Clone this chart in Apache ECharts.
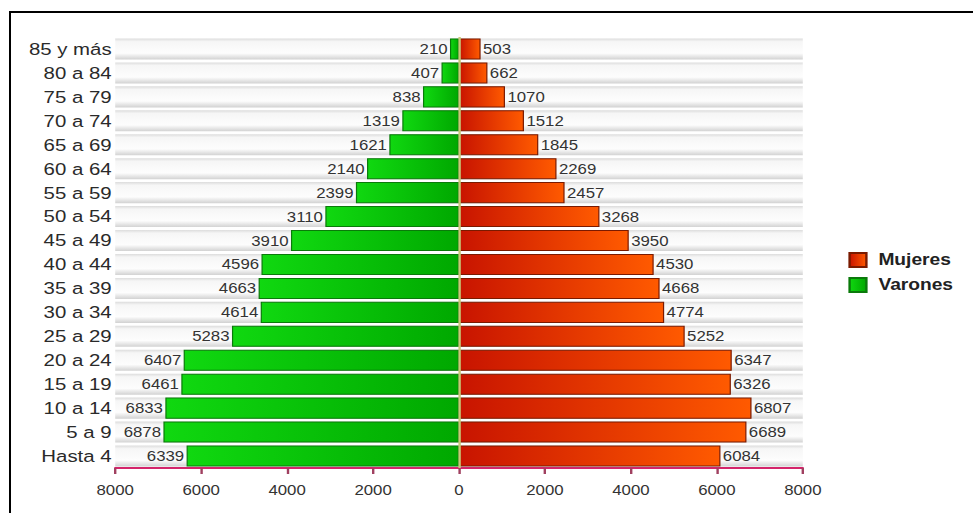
<!DOCTYPE html>
<html>
<head>
<meta charset="utf-8">
<script src="https://cdn.jsdelivr.net/npm/echarts@6/dist/echarts.min.js"></script>
<style>
html,body{margin:0;padding:0;background:#fff;overflow:hidden;width:973px;height:513px;}
#frame{position:absolute;left:9px;top:11px;width:980px;height:520px;border:2px solid #000;box-sizing:border-box;}
#chart{position:absolute;left:0;top:0;width:811px;height:513px;transform:scaleX(1.2);transform-origin:0 0;}
</style>
</head>
<body>
<div id="frame"></div>
<div id="chart"></div>
<script>
const categories = ['Hasta 4','5 a 9','10 a 14','15 a 19','20 a 24','25 a 29','30 a 34','35 a 39','40 a 44','45 a 49','50 a 54','55 a 59','60 a 64','65 a 69','70 a 74','75 a 79','80 a 84','85 y más'];
const varones = [6339,6878,6833,6461,6407,5283,4614,4663,4596,3910,3110,2399,2140,1621,1319,838,407,210];
const mujeres = [6084,6689,6807,6326,6347,5252,4774,4668,4530,3950,3268,2457,2269,1845,1512,1070,662,503];
const xTicks = [-8000,-6000,-4000,-2000,0,2000,4000,6000,8000];

const chart = echarts.init(document.getElementById('chart'), null, {renderer:'svg'});
const font = 'Arial, "Liberation Sans", sans-serif';
chart.setOption({
  animation:false,
  grid:{left:96,right:142,top:37,bottom:45},
  legend:{
    orient:'vertical', left:702, top:247, itemWidth:14, itemHeight:14, itemGap:9,
    icon:'rect',
    data:['Mujeres','Varones'],
    textStyle:{fontFamily:font,fontSize:16,fontWeight:'bold',color:'#222',padding:[0,0,0,5]}
  },
  xAxis:{
    type:'value', min:xTicks[0], max:xTicks[xTicks.length-1], interval:2000,
    axisLine:{show:true,lineStyle:{color:'#d4246a',width:2}},
    axisTick:{show:true,length:6,lineStyle:{color:'#a04060',width:2}},
    splitLine:{show:false},
    axisLabel:{fontFamily:font,fontSize:14,color:'#333',margin:15,formatter:v=>Math.abs(v)}
  },
  yAxis:{
    type:'category', data:categories,
    axisLine:{show:false},
    axisTick:{show:false},
    axisLabel:{fontFamily:font,fontSize:17,color:'#2a2a2a',margin:3}
  },
  series:[
    {
      name:'Mujeres', type:'bar', stack:'t', barCategoryGap:'12%',
      data:mujeres,
      showBackground:true,
      backgroundStyle:{color:new echarts.graphic.LinearGradient(0,0,0,1,[
        {offset:0,color:'#dcdcdc'},{offset:0.15,color:'#f6f6f6'},{offset:0.7,color:'#fdfdfd'},{offset:1,color:'#d2d2d2'}])},
      itemStyle:{
        color:new echarts.graphic.LinearGradient(0,0,1,0,[{offset:0,color:'#c81400'},{offset:1,color:'#ff5a00'}]),
        borderColor:'#7a1a00', borderWidth:1
      },
      label:{show:true,position:'right',distance:2,fontFamily:font,fontSize:14,color:'#333'},
      markLine:{symbol:'none',silent:true,label:{show:false},lineStyle:{color:'#c8c878',width:2,type:'solid'},data:[{xAxis:0}]}
    },
    {
      name:'Varones', type:'bar', stack:'t',
      data:varones.map(v=>-v),
      itemStyle:{
        color:new echarts.graphic.LinearGradient(0,0,1,0,[{offset:0,color:'#10d810'},{offset:1,color:'#00a800'}]),
        borderColor:'#0a7a0a', borderWidth:1
      },
      label:{show:true,position:'left',distance:2,fontFamily:font,fontSize:14,color:'#333',formatter:p=>Math.abs(p.value)}
    }
  ]
});
</script>
</body>
</html>
